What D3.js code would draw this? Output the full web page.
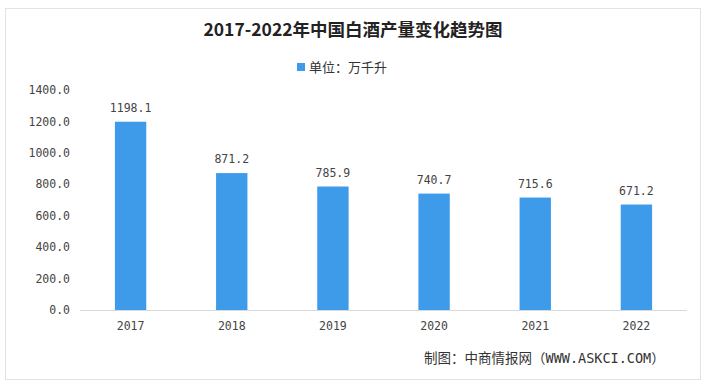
<!DOCTYPE html>
<html>
  <head>
    <meta charset="utf-8" />
    <title>白酒产量</title>
    <script src="https://d3js.org/d3.v7.min.js"></script>
    <style>
        body { margin: 0; background: #fff; }
        text { font-family: "DejaVu Sans Mono", "Noto Sans CJK SC", monospace; }
    </style>
  </head>
  <body>
    <svg id="chart"></svg>
    <script>
        var years = ["2017", "2018", "2019", "2020", "2021", "2022"];
        var output = [1198.1, 871.2, 785.9, 740.7, 715.6, 671.2];
        var yTicks = [0, 200, 400, 600, 800, 1000, 1200, 1400];

        var width = 706, height = 389;
        var margin = {top: 90, right: 19, bottom: 79, left: 80};
        var cjk = '"Noto Sans CJK SC", sans-serif';

        var svg = d3.select("#chart")
            .attr("width", width)
            .attr("height", height);

        // outer frame
        svg.append("rect")
            .attr("x", 5.5).attr("y", 8.5)
            .attr("width", 695).attr("height", 371)
            .attr("fill", "none")
            .attr("stroke", "#e3e3e3");

        svg.append("text")
            .attr("x", 353).attr("y", 36)
            .attr("text-anchor", "middle")
            .style("font-family", cjk)
            .style("font-weight", "bold")
            .style("font-size", "17.5px")
            .attr("fill", "#222")
            .text("2017-2022年中国白酒产量变化趋势图");

        // legend
        svg.append("rect")
            .attr("x", 297).attr("y", 63)
            .attr("width", 8).attr("height", 8)
            .attr("fill", "#3d9be9");
        svg.append("text")
            .attr("x", 309).attr("y", 72)
            .style("font-family", cjk)
            .style("font-size", "13px")
            .attr("fill", "#333")
            .text("单位：万千升");

        var x = d3.scaleBand()
            .domain(years)
            .range([margin.left, width - margin.right])
            .paddingInner(0.69)
            .paddingOuter(0.345);

        var y = d3.scaleLinear()
            .domain([0, 1400])
            .range([height - margin.bottom, margin.top]);

        // y axis labels only
        var yAxis = d3.axisLeft(y)
            .tickValues(yTicks)
            .tickFormat(d3.format(".1f"))
            .tickSize(0)
            .tickPadding(0);
        svg.append("g")
            .attr("transform", "translate(70,0)")
            .call(yAxis)
            .call(function(g) { g.select(".domain").remove(); })
            .selectAll("text")
            .style("font-size", "11.5px")
            .attr("fill", "#444");

        // x axis
        var xAxis = d3.axisBottom(x).tickSize(0).tickPadding(12);
        var gx = svg.append("g")
            .attr("transform", "translate(0," + y(0) + ")")
            .call(xAxis);
        gx.select(".domain")
            .attr("d", "M" + margin.left + ",0.5H" + (width - margin.right))
            .attr("stroke", "#d9d9d9");
        gx.selectAll("text")
            .style("font-size", "11.5px")
            .attr("fill", "#444");

        var data = years.map(function(d, i) { return {year: d, value: output[i]}; });

        svg.append("g").selectAll("rect")
            .data(data)
            .enter().append("rect")
            .attr("x", function(d) { return x(d.year); })
            .attr("y", function(d) { return y(d.value); })
            .attr("width", x.bandwidth())
            .attr("height", function(d) { return y(0) - y(d.value); })
            .attr("fill", "#3d9be9");

        svg.append("g").selectAll("text")
            .data(data)
            .enter().append("text")
            .attr("x", function(d) { return x(d.year) + x.bandwidth() / 2; })
            .attr("y", function(d) { return y(d.value) - 10; })
            .attr("text-anchor", "middle")
            .style("font-size", "11.5px")
            .attr("fill", "#444")
            .text(function(d) { return d3.format(".1f")(d.value); });

        svg.append("text")
            .attr("x", 424).attr("y", 363)
            .style("font-size", "13.5px")
            .attr("fill", "#333")
            .text("制图：中商情报网（WWW.ASKCI.COM）");
    </script>
  </body>
</html>
